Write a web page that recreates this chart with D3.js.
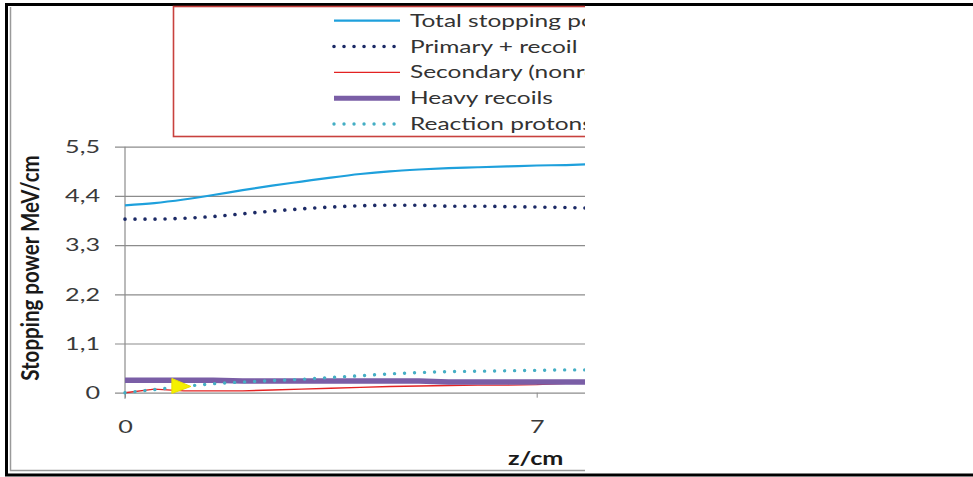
<!DOCTYPE html>
<html>
<head>
<meta charset="utf-8">
<script src="https://cdn.jsdelivr.net/npm/d3@7"></script>
<style>
  body { margin: 0; background: #fff; }
  svg { display: block; }
</style>
</head>
<body>
<figure id="stopping" style="margin:0"></figure>
<script>
// data (z in cm, stopping power in MeV/cm)
const zValues = [0, 0.5, 1, 1.5, 2, 2.5, 3, 3.5, 4, 4.5, 5, 5.5, 6, 6.5, 7, 7.5, 8];
const totalStopping = [4.19, 4.24, 4.32, 4.42, 4.53, 4.63, 4.72, 4.81, 4.89, 4.95, 4.99, 5.02, 5.04, 5.06, 5.08, 5.09, 5.11];
const primaryRecoil = [3.88, 3.88, 3.90, 3.94, 4.00, 4.06, 4.11, 4.15, 4.18, 4.19, 4.19, 4.17, 4.17, 4.16, 4.15, 4.14, 4.12];
const secondary     = [0, 0.08, 0.04, 0.04, 0.04, 0.06, 0.08, 0.10, 0.12, 0.14, 0.15, 0.16, 0.17, 0.17, 0.18, 0.21, 0.22];
const heavyRecoils  = [0.28, 0.28, 0.28, 0.28, 0.26, 0.26, 0.26, 0.26, 0.26, 0.26, 0.26, 0.24, 0.24, 0.24, 0.24, 0.24, 0.24];
const reactionProtons = [0, 0.07, 0.14, 0.20, 0.24, 0.27, 0.30, 0.34, 0.38, 0.42, 0.45, 0.47, 0.48, 0.49, 0.50, 0.51, 0.51];

const seriesNames = ["Total stopping power", "Primary + recoil", "Secondary (nonreaction)", "Heavy recoils", "Reaction protons"];
const yTicks = [0, 1.1, 2.2, 3.3, 4.4, 5.5];
const xTicks = [0, 7, 14];

// yellow cursor marker seen on the picture
const cursorZ = 0.95, cursorV = 0.14;

const width = 973, height = 477;
const clipRight = 585;
// the source picture is stretched sideways, so text is too
const sx = 1.4;

const svg = d3.select("figure#stopping")
  .append("svg")
  .attr("width", width)
  .attr("height", height);

svg.append("defs").append("clipPath").attr("id", "cut")
  .append("rect").attr("x", 0).attr("y", 0).attr("width", clipRight).attr("height", height);

const x = d3.scaleLinear().domain([0, 14]).range([125, 948.4]);
const y = d3.scaleLinear().domain([0, 5.5]).range([392.7, 146.7]);

const fmt = d3.formatLocale({decimal: ",", thousands: ".", grouping: [3], currency: ["", ""]}).format("~g");
const font = "Lato, 'Open Sans', sans-serif";

// outer frame
svg.append("line").attr("x1", 5).attr("x2", width).attr("y1", 4.5).attr("y2", 4.5)
  .attr("stroke", "#000").attr("stroke-width", 3);
svg.append("line").attr("x1", 6.5).attr("x2", 6.5).attr("y1", 3).attr("y2", 476)
  .attr("stroke", "#000").attr("stroke-width", 3);
svg.append("line").attr("x1", 5).attr("x2", width).attr("y1", 475).attr("y2", 475)
  .attr("stroke", "#000").attr("stroke-width", 3);
svg.append("line").attr("x1", 10.5).attr("x2", 10.5).attr("y1", 7).attr("y2", 471)
  .attr("stroke", "#9a9a9a").attr("stroke-width", 1.5);
svg.append("line").attr("x1", 10).attr("x2", clipRight).attr("y1", 470.5).attr("y2", 470.5)
  .attr("stroke", "#9a9a9a").attr("stroke-width", 1.5);

const chart = svg.append("g").attr("clip-path", "url(#cut)");

// y axis with gridlines
const yAxis = chart.append("g")
  .attr("transform", `translate(${clipRight},0)`)
  .call(d3.axisLeft(y).tickValues(yTicks).tickFormat(fmt).tickSize(clipRight - 115).tickPadding(15));
yAxis.select(".domain").remove();
yAxis.selectAll(".tick line").attr("stroke", "#8c8c8c").attr("stroke-width", 1.2);
yAxis.selectAll(".tick text")
  .attr("font-family", font).attr("font-size", 18).attr("fill", "#3a3a3a")
  .attr("x", -(clipRight - 100) / sx)
  .attr("transform", `scale(${sx},1)`);

chart.append("line")
  .attr("x1", x(0)).attr("x2", x(0)).attr("y1", y(5.5)).attr("y2", y(0) + 6)
  .attr("stroke", "#8c8c8c").attr("stroke-width", 1.2);

// x axis
const xAxis = chart.append("g")
  .attr("transform", `translate(0,${y(0)})`)
  .call(d3.axisBottom(x).tickValues(xTicks).tickSize(5).tickPadding(23));
xAxis.select(".domain").remove();
xAxis.selectAll(".tick line").attr("stroke", "#8c8c8c");
xAxis.selectAll(".tick text")
  .attr("font-family", font).attr("font-size", 18).attr("fill", "#3a3a3a")
  .attr("transform", `scale(${sx},1)`);

// axis titles
svg.append("text")
  .attr("transform", `translate(39,268) rotate(-90) scale(1,1.22)`)
  .attr("text-anchor", "middle")
  .attr("font-family", font).attr("font-weight", "bold").attr("font-size", 20.5)
  .attr("fill", "#1a1a1a")
  .text("Stopping power MeV/cm");

chart.append("text")
  .attr("transform", `translate(${(x(0) + x(14)) / 2 - 1},465) scale(${sx},1)`)
  .attr("text-anchor", "middle")
  .attr("font-family", font).attr("font-weight", "bold").attr("font-size", 18)
  .attr("fill", "#1a1a1a")
  .text("z/cm");

// series
const styles = [
  {color: "#1ea0dc", width: 2.2, dash: null, cap: "butt", curve: d3.curveMonotoneX},
  {color: "#1c2a66", width: 3.6, dash: "0.01 10", cap: "round", curve: d3.curveMonotoneX},
  {color: "#e32222", width: 1.4, dash: null, cap: "butt", curve: d3.curveLinear},
  {color: "#7a5ea6", width: 5.5, dash: null, cap: "butt", curve: d3.curveLinear},
  {color: "#44aec4", width: 3.4, dash: "0.01 10", cap: "round", curve: d3.curveMonotoneX}
];
const allSeries = [totalStopping, primaryRecoil, secondary, heavyRecoils, reactionProtons];

allSeries.forEach((vals, i) => {
  const s = styles[i];
  chart.append("path")
    .datum(vals.map((v, k) => [zValues[k], v]))
    .attr("fill", "none")
    .attr("stroke", s.color)
    .attr("stroke-width", s.width)
    .attr("stroke-linecap", s.cap)
    .attr("stroke-dasharray", s.dash)
    .attr("d", d3.line().x(d => x(d[0])).y(d => y(d[1])).curve(s.curve));
});

// yellow cursor arrow
const cx = x(cursorZ), cy = y(cursorV);
chart.append("path")
  .attr("d", `M${cx - 9},${cy - 8} L${cx + 10},${cy} L${cx - 9},${cy + 7} Z`)
  .attr("fill", "#f5f000")
  .attr("stroke", "#e8e000")
  .attr("stroke-width", 1);

// legend
const legend = chart.append("g");
legend.append("rect")
  .attr("x", 173.5).attr("y", 6.5).attr("width", 500).attr("height", 130)
  .attr("fill", "#fff").attr("stroke", "#c8413e").attr("stroke-width", 1.6);

const rowY = d3.scaleLinear().domain([0, 4]).range([20.7, 124]);
seriesNames.forEach((name, i) => {
  const s = styles[i];
  const ry = rowY(i);
  legend.append("line")
    .attr("x1", 334).attr("x2", 400).attr("y1", ry).attr("y2", ry)
    .attr("stroke", s.color)
    .attr("stroke-width", i === 3 ? 5 : s.width)
    .attr("stroke-linecap", s.cap)
    .attr("stroke-dasharray", s.dash);
  legend.append("text")
    .attr("transform", `translate(410,${ry + 6}) scale(${sx},1)`)
    .attr("font-family", font).attr("font-size", 17.5)
    .attr("fill", "#333")
    .text(name);
});
</script>
</body>
</html>
